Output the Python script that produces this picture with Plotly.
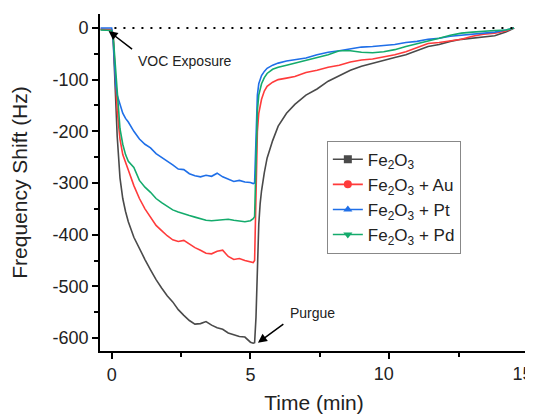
import plotly.graph_objects as go

# time (min) and frequency shift (Hz)
time_min = [-0.4, -0.2, 0.0, 0.05, 0.1, 0.15, 0.2, 0.3, 0.4, 0.5, 0.6, 0.8, 1.0, 1.2, 1.4,
            1.6, 1.8, 2.0, 2.2, 2.4, 2.6, 2.8, 3.0, 3.2, 3.4, 3.6, 3.8, 4.0, 4.2, 4.4, 4.6,
            4.8, 5.0, 5.1, 5.15, 5.2, 5.25, 5.3, 5.35, 5.4, 5.5, 5.6, 5.8, 6.0, 6.3, 6.6,
            7.0, 7.4, 7.8, 8.2, 8.6, 9.0, 9.4, 9.8, 10.2, 10.6, 11.0, 11.4, 11.8, 12.2,
            12.6, 13.0, 13.4, 13.8, 14.2, 14.5]

fe2o3 = [-3, -4, -5, -15, -80, -150, -210, -290, -330, -355, -375, -405, -428, -448, -468,
         -487, -503, -518, -530, -545, -556, -566, -573, -572, -568, -575, -580, -583, -590,
         -594, -597, -598, -608, -610, -609, -560, -460, -380, -340, -315, -280, -252, -218,
         -190, -165, -148, -130, -118, -103, -93, -82, -74, -68, -62, -57, -52, -44, -36,
         -32, -26, -22, -20, -17, -15, -8, 0]

fe2o3_au = [-2, -2, -3, -10, -50, -110, -160, -215, -245, -262, -275, -305, -330, -350, -365,
            -382, -392, -402, -410, -413, -411, -418, -425, -430, -436, -437, -432, -430, -442,
            -448, -446, -450, -452, -454, -450, -300, -200, -165, -150, -138, -122, -113, -105,
            -100, -97, -94, -86, -82, -76, -72, -66, -62, -60, -56, -52, -46, -38, -30, -28,
            -25, -22, -16, -12, -10, -6, 0]

fe2o3_pt = [0, 0, 0, -20, -80, -110, -130, -150, -165, -175, -182, -200, -215, -225, -232,
            -243, -250, -258, -265, -273, -274, -282, -286, -288, -285, -287, -281, -288, -293,
            -297, -295, -298, -299, -301, -300, -200, -130, -108, -98, -92, -84, -78, -72, -68,
            -64, -62, -58, -52, -47, -44, -40, -37, -36, -34, -32, -28, -26, -22, -20, -16,
            -14, -12, -10, -8, -4, 0]

fe2o3_pd = [-4, -4, -5, -12, -50, -100, -135, -195, -225, -245, -258, -270, -295, -308, -318,
            -330, -338, -345, -352, -356, -360, -363, -366, -369, -372, -373, -372, -371, -370,
            -372, -373, -375, -373, -369, -365, -250, -160, -130, -118, -108, -96, -88, -80,
            -76, -72, -68, -63, -58, -52, -44, -44, -47, -48, -46, -42, -36, -31, -26, -20,
            -14, -10, -8, -6, -5, -4, 0]

series_names = ["Fe<sub>2</sub>O<sub>3</sub>", "Fe<sub>2</sub>O<sub>3</sub> + Au",
                "Fe<sub>2</sub>O<sub>3</sub> + Pt", "Fe<sub>2</sub>O<sub>3</sub> + Pd"]
series_values = [fe2o3, fe2o3_au, fe2o3_pt, fe2o3_pd]
colors = ["#4a4a4a", "#ff3b3b", "#1f6fe8", "#14ab6c"]
symbols = ["square", "circle", "triangle-up", "triangle-down"]

y_ticks = [0, -100, -200, -300, -400, -500, -600]
y_ticktext = ["0", "-100", "-200", "-300", "-400", "-500", "-600"]
x_ticks = [0, 5, 10, 15]
x_ticktext = ["0", "5", "", ""]
# two-digit labels sit a little left of their ticks in the original -> drawn on an overlay
# axis whose range is nudged by 0.2 min
x_ticks_2digit = [10, 15]
x_range = [-0.42, 15]
x2_range = [-0.22, 15.2]
y_range = [-625, 27]

font = "Arial, Liberation Sans, sans-serif"

fig = go.Figure()

# curves (no markers on the data itself)
for name, vals, col in zip(series_names, series_values, colors):
    fig.add_trace(go.Scatter(x=time_min, y=vals, mode="lines", name=name,
                             line=dict(color=col, width=1.6), showlegend=False))

# legend entries with line + marker, like the original
for name, col, sym in zip(series_names, colors, symbols):
    fig.add_trace(go.Scatter(x=[None], y=[None], mode="lines+markers", name=name,
                             line=dict(color=col, width=1.6),
                             marker=dict(color=col, symbol=sym, size=8)))

# empty trace so the overlay x axis gets drawn
fig.add_trace(go.Scatter(x=[None], y=[None], xaxis="x2", yaxis="y", mode="lines",
                         showlegend=False, hoverinfo="skip"))

# baseline
fig.add_shape(type="line", x0=0.1, x1=14.5, y0=0, y1=0, xref="x", yref="y",
              line=dict(color="black", width=2, dash="2px,7px"))

# arrows + labels
fig.add_annotation(x=-0.11, y=-6, ax=0.79, ay=-43, xref="x", yref="y", axref="x", ayref="y",
                   text="", showarrow=True, arrowhead=2, arrowsize=1.2, arrowwidth=1.5,
                   arrowcolor="black")
fig.add_annotation(x=2.65, y=-64, text="VOC Exposure", showarrow=False,
                   font=dict(size=14, color="#222", family=font))
fig.add_annotation(x=5.27, y=-609, ax=6.24, ay=-571, xref="x", yref="y", axref="x", ayref="y",
                   text="", showarrow=True, arrowhead=2, arrowsize=1.2, arrowwidth=1.5,
                   arrowcolor="black")
fig.add_annotation(x=7.24, y=-551, text="Purgue", showarrow=False,
                   font=dict(size=14, color="#222", family=font))

# page body has an 8px margin, so the figure is sized/offset to compensate
fig.update_layout(
    width=525, height=406,
    margin=dict(l=92, r=5, t=6, b=63),
    plot_bgcolor="white", paper_bgcolor="white",
    font=dict(family=font, color="#222"),
    legend=dict(x=0.53, y=0.624, xanchor="left", yanchor="top",
                bgcolor="white", bordercolor="#888", borderwidth=1,
                font=dict(size=17, color="#222"), tracegroupgap=0),
    xaxis=dict(
        range=x_range, showgrid=False, zeroline=False,
        showline=True, linecolor="black", linewidth=1.8,
        ticks="outside", ticklen=6, tickwidth=1.5, tickcolor="black",
        tickvals=x_ticks, ticktext=x_ticktext, tickfont=dict(size=18),
        ticklabeloverflow="allow",
        minor=dict(ticks="outside", ticklen=4, tickwidth=1.5, dtick=2.5, tick0=0,
                   tickcolor="black"),
        title=dict(text="Time (min)", font=dict(size=21), standoff=12),
        automargin=False,
    ),
    xaxis2=dict(
        overlaying="x", anchor="y", side="bottom", range=x2_range,
        showline=False, showgrid=False, zeroline=False, ticks="outside",
        ticklen=6, tickcolor="rgba(0,0,0,0)",
        tickvals=x_ticks_2digit, ticktext=[str(v) for v in x_ticks_2digit],
        tickfont=dict(size=18),
        ticklabeloverflow="allow", automargin=False,
    ),
    yaxis=dict(
        range=y_range, showgrid=False, zeroline=False,
        showline=True, linecolor="black", linewidth=1.8,
        ticks="outside", ticklen=6, tickwidth=1.5, tickcolor="black",
        tickvals=y_ticks, ticktext=y_ticktext, tickfont=dict(size=18),
        minor=dict(ticks="outside", ticklen=4, tickwidth=1.5, dtick=50, tick0=0,
                   tickcolor="black"),
        title=dict(text="Frequency Shift (Hz)", font=dict(size=21), standoff=19),
        automargin=False,
    ),
)

fig.write_html("out.html")
